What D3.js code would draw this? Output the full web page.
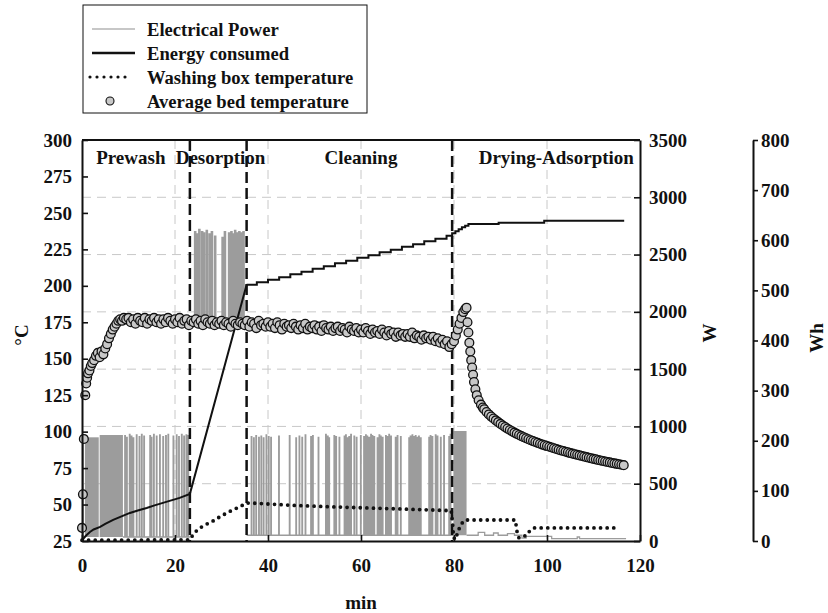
<!DOCTYPE html>
<html>
<head>
<meta charset="utf-8">
<script src="https://cdn.jsdelivr.net/npm/d3@7"></script>
<style>
body { margin: 0; background: #fff; }
text { font-family: "Liberation Serif", "Times New Roman", serif; font-weight: bold; fill: #111; }
</style>
</head>
<body>
<div id="chart-area"></div>
<script>
/*
*    washing cycle chart
*/

// ---- values ----
var xTicks = [0, 20, 40, 60, 80, 100, 120];
var cTicks = [25, 50, 75, 100, 125, 150, 175, 200, 225, 250, 275, 300];
var wTicks = [0, 500, 1000, 1500, 2000, 2500, 3000, 3500];
var whTicks = [0, 100, 200, 300, 400, 500, 600, 700, 800];

var phaseNames = ["Prewash", "Desorption", "Cleaning", "Drying-Adsorption"];
var phaseStart = [0, 23.2, 35.4, 79.6];

// electrical power (W): off level per phase and heater pulses
var phaseBaseW = [35, 1900, 50];
var prewashSpikeMin = [9.2, 9.6, 10.2, 10.6, 11.0, 11.7, 12.3, 12.8, 13.3, 14.6, 14.9, 15.4, 16.0, 16.7, 17.4, 18.0, 18.5, 19.6, 20.3, 20.8, 21.4, 21.9, 22.4, 22.8];
var prewashSpikeW   = [920, 905, 930, 915, 900, 925, 910, 930, 915, 920, 905, 930, 915, 925, 910, 920, 930, 915, 925, 910, 930, 915, 925, 920];
var desorbSpikeMin = [24.2, 24.7, 25.1, 25.7, 26.1, 26.7, 27.3, 27.8, 28.5, 30.1, 30.6, 31.5, 32.0, 32.4, 32.8, 33.3, 33.7, 34.2, 34.6];
var desorbSpikeW   = [2700, 2680, 2720, 2700, 2690, 2710, 2680, 2700, 2660, 2650, 2700, 2690, 2700, 2680, 2710, 2690, 2700, 2690, 2700];
var cleanSpikeMin = [36.4, 36.9, 37.4, 38.0, 38.5, 39.0, 39.6, 40.1, 40.6, 42.3, 44.6, 46.0, 46.7, 47.3, 48.0, 49.2, 49.6, 50.8, 52.4, 52.8, 53.1, 54.2, 54.6, 55.3, 56.4, 56.7, 57.1, 57.4, 57.8, 58.5, 59.0, 59.9, 60.6, 61.0, 61.3, 61.7, 62.1, 62.4, 62.8, 63.5, 63.9, 64.2, 64.6, 65.3, 65.6, 66.0, 66.4, 67.4, 67.8, 68.5, 70.3, 70.6, 71.0, 71.3, 71.7, 72.1, 72.4, 72.8, 74.6, 74.9, 75.3, 76.0, 76.4, 77.1, 77.8, 78.9, 79.2];
var cleanSpikeW   = [910, 900, 920, 905, 915, 900, 925, 910, 905, 915, 920, 900, 915, 905, 925, 910, 920, 905, 930, 915, 900, 920, 910, 905, 915, 925, 900, 910, 930, 915, 905, 920, 910, 925, 915, 905, 930, 920, 910, 900, 925, 915, 905, 920, 910, 930, 915, 905, 920, 910, 900, 915, 925, 910, 920, 905, 915, 900, 905, 920, 910, 925, 915, 905, 920, 910, 930];
// near-continuous switching: [from min, to min, low W, high W]
var powerBlocks = [[0, 0.45, 35, 880], [0.65, 3.6, 35, 905], [3.8, 8.8, 35, 925], [79.9, 82.7, 50, 960]];
var tailMin = [82.7, 85.2, 86.6, 88.5, 89.5, 91.5, 93.0, 94.6, 95.5, 101.0, 106.5, 107.0, 117.0];
var tailW   = [50, 75, 50, 70, 50, 65, 50, 25, 40, 20, 35, 20, 20];

// energy consumed (Wh)
var energyRampMin = [0, 0.5, 1, 1.7, 2.5, 3.9, 5, 6.7, 8.5, 10.3, 12, 13.9, 15.6, 17.4, 19.2, 21, 23.2, 35.4];
var energyRampWh  = [0, 7, 12, 18, 23, 28, 34, 42, 49, 56, 61, 66, 71, 76, 81, 86, 94, 511];
var energyStepMin = [35.4, 37.6, 40, 42.4, 44.8, 47.2, 49.6, 52, 54.4, 56.8, 59.2, 61.6, 64, 66.4, 68.8, 71.2, 73.6, 76, 78.4, 79.6, 80.3, 81, 81.7, 82.4, 83.1, 89.6, 99.4, 116.6];
var energyStepWh  = [511, 516, 521, 526, 532, 537, 543, 548, 554, 559, 565, 570, 576, 581, 587, 592, 598, 603, 609, 614, 618, 622, 626, 629, 632.5, 635, 639, 639];

// washing box temperature (°C)
var washMin = [0, 23.2, 23.8, 24.9, 26.4, 27.8, 29.6, 31, 32.4, 33.9, 35.3, 36.5, 45, 55, 65, 75, 79.4, 79.7, 79.9, 80.2, 80.6, 81, 81.4, 82.3, 93.2, 93.5, 93.7, 94, 95.7, 96, 97.2, 114.8];
var washC   = [25.5, 25.8, 29, 33, 36, 38, 41.5, 44, 46.3, 48.4, 51, 51, 49.5, 48.3, 47.3, 46.3, 45.8, 37, 28, 26, 29, 32.5, 36, 39.4, 39.4, 32.5, 29, 27, 29, 31, 34, 34];

// average bed temperature (°C)
var bedMin = [0, 0.2, 0.4, 0.7, 0.9, 1.1, 1.3, 1.6, 1.9, 2.2, 2.6, 3.0, 3.4, 3.8, 4.2, 4.6, 5.0, 5.4, 5.8, 6.2, 6.6, 7.0, 7.4, 7.8, 8.2, 8.6, 9.0, 9.5,
  10, 10.5, 11, 11.5, 12, 12.5, 13, 13.5, 14, 14.5, 15, 15.5, 16, 16.5, 17, 17.5, 18, 18.5, 19, 19.5,
  20, 20.5, 21, 21.5, 22, 22.5, 23, 23.5, 24, 24.5, 25, 25.5, 26, 26.5, 27, 27.5, 28, 28.5, 29, 29.5,
  30, 30.5, 31, 31.5, 32, 32.5, 33, 33.5, 34, 34.5, 35, 35.5, 36, 36.5, 37, 37.5, 38, 38.5, 39, 39.5,
  40, 40.5, 41, 41.5, 42, 42.5, 43, 43.5, 44, 44.5, 45, 45.5, 46, 46.5, 47, 47.5, 48, 48.5, 49, 49.5,
  50, 50.5, 51, 51.5, 52, 52.5, 53, 53.5, 54, 54.5, 55, 55.5, 56, 56.5, 57, 57.5, 58, 58.5, 59, 59.5,
  60, 60.5, 61, 61.5, 62, 62.5, 63, 63.5, 64, 64.5, 65, 65.5, 66, 66.5, 67, 67.5, 68, 68.5, 69, 69.5,
  70, 70.5, 71, 71.5, 72, 72.5, 73, 73.5, 74, 74.5, 75, 75.5, 76, 76.5, 77, 77.5, 78, 78.5, 79, 79.5,
  80, 80.4, 80.8, 81.2, 81.6, 82, 82.4, 82.7, 82.9, 83.1, 83.3, 83.5, 83.7, 83.9, 84.1, 84.3, 84.6, 84.9, 85.3, 85.8, 86.2,
  86.5, 87, 87.5, 88, 88.5, 89, 89.5, 90, 90.5, 91, 91.5, 92, 92.5, 93, 93.5, 94, 94.5, 95, 95.5, 96,
  96.5, 97, 97.5, 98, 98.5, 99, 99.5, 100, 100.5, 101, 101.5, 102, 102.5, 103, 103.5, 104, 104.5, 105, 105.5, 106,
  106.5, 107, 107.5, 108, 108.5, 109, 109.5, 110, 110.5, 111, 111.5, 112, 112.5, 113, 113.5, 114, 114.5, 115, 115.5, 116, 116.5];
var bedC = [34, 57, 95, 125, 133, 137, 140, 142, 145, 147, 149, 152, 154, 151, 155, 153, 157, 160, 164, 167, 170, 172, 174, 176, 177, 176, 178, 177,
  178, 175, 177, 174, 178, 176, 175, 178, 174, 177, 176, 178, 175, 177, 174, 177, 175, 178, 176, 174,
  177, 175, 178, 174, 176, 177, 173, 176, 175, 177, 174, 176, 173, 177, 175, 174, 176, 173, 175, 174,
  176, 173, 175, 174, 172, 176, 174, 173, 175, 174, 173, 176, 172, 175, 174, 171, 176, 173, 174, 172,
  175, 172, 174, 171, 175, 173, 170, 174, 172, 173, 171, 174, 172, 170, 173, 171, 174, 170, 172, 171,
  173, 170, 172, 169, 173, 171, 170, 172, 169, 171, 172, 169, 171, 170, 168, 172, 170, 169, 171, 168,
  170, 168, 171, 169, 167, 170, 168, 169, 167, 170, 168, 166, 169, 167, 168, 165, 168, 166, 167, 165,
  167, 165, 168, 164, 166, 165, 163, 166, 164, 165, 163, 165, 162, 164, 161, 163, 160, 162, 158, 160,
  162, 166, 170, 174, 178, 182, 184, 185, 175, 168, 161, 155, 149, 144, 139, 134, 129, 125, 121.5, 118.5, 116.5,
  115.4, 113.5, 111.8, 110.3, 109.0, 107.7, 106.5, 105.3, 104.2, 103.1, 102.1, 101.1, 100.2, 99.3, 98.5, 97.7, 96.9, 96.2, 95.5, 94.8,
  94.1, 93.5, 92.9, 92.3, 91.7, 91.1, 90.6, 90.1, 89.6, 89.1, 88.6, 88.1, 87.6, 87.1, 86.7, 86.2, 85.8, 85.3, 84.9, 84.5,
  84.1, 83.7, 83.3, 82.9, 82.5, 82.1, 81.7, 81.3, 81.0, 80.6, 80.2, 79.9, 79.5, 79.2, 78.9, 78.5, 78.2, 77.9, 77.6, 77.3, 77.0];

// ---- layout ----
var margin = {left: 82, top: 140};
var width = 558, height = 401;
var phaseLabelMin = [10.5, 29.8, 60, 102];
var fontSize = "19px";

var svg = d3.select("#chart-area")
  .append("svg")
    .attr("width", 828)
    .attr("height", 613);

var g = svg.append("g")
    .attr("transform", "translate(" + margin.left + ", " + margin.top + ")");

var x = d3.scaleLinear().domain([0, 120]).range([0, width]);
var yC = d3.scaleLinear().domain([25, 300]).range([height, 0]);
var yW = d3.scaleLinear().domain([0, 3500]).range([height, 0]);
var yWh = d3.scaleLinear().domain([0, 800]).range([height, 0]);

// grid
g.selectAll(".hgrid").data(wTicks.slice(1, -1)).enter()
  .append("line")
    .attr("x1", 0).attr("x2", width)
    .attr("y1", (d) => yW(d)).attr("y2", (d) => yW(d))
    .attr("stroke", "#c8c8c8").attr("stroke-dasharray", "9,6");
g.selectAll(".vgrid").data(xTicks.slice(1, -1)).enter()
  .append("line")
    .attr("y1", 0).attr("y2", height)
    .attr("x1", (d) => x(d)).attr("x2", (d) => x(d))
    .attr("stroke", "#c8c8c8").attr("stroke-dasharray", "9,6");

// electrical power
var pwColor = "#9c9c9c";
function pulses(t0, t1, base, mins, peaks, w) {
    var pts = [[t0, base]];
    mins.forEach((t, i) => {
        pts.push([t, base], [t, peaks[i]], [t + w, peaks[i]], [t + w, base]);
    });
    pts.push([t1, base]);
    return pts;
}
var pwLine = d3.line().x((d) => x(d[0])).y((d) => yW(d[1]));
var pwSeries = [
    pulses(8.8, phaseStart[1], phaseBaseW[0], prewashSpikeMin, prewashSpikeW, 0.12),
    pulses(phaseStart[1], phaseStart[2], phaseBaseW[1], desorbSpikeMin, desorbSpikeW, 0.28),
    pulses(phaseStart[2], 79.9, phaseBaseW[2], cleanSpikeMin, cleanSpikeW, 0.12)
];
g.selectAll(".pw").data(pwSeries).enter()
  .append("path")
    .attr("d", pwLine)
    .attr("fill", "none")
    .attr("stroke", pwColor)
    .attr("stroke-width", 1.3);
g.selectAll(".pwblock").data(powerBlocks).enter()
  .append("rect")
    .attr("x", (d) => x(d[0]))
    .attr("width", (d) => x(d[1]) - x(d[0]))
    .attr("y", (d) => yW(d[3]))
    .attr("height", (d) => yW(d[2]) - yW(d[3]))
    .attr("fill", pwColor);
g.append("path")
    .datum(tailMin.map((t, i) => [t, tailW[i]]))
    .attr("d", d3.line().curve(d3.curveStepAfter).x((d) => x(d[0])).y((d) => yW(d[1])))
    .attr("fill", "none")
    .attr("stroke", pwColor)
    .attr("stroke-width", 1.3);

// phase separators
g.selectAll(".phase").data(phaseStart.slice(1)).enter()
  .append("line")
    .attr("x1", (d) => x(d)).attr("x2", (d) => x(d))
    .attr("y1", 0).attr("y2", height)
    .attr("stroke", "#111").attr("stroke-width", 2.5)
    .attr("stroke-dasharray", "11,5");

// energy consumed
g.append("path")
    .datum(energyRampMin.map((t, i) => [t, energyRampWh[i]]))
    .attr("d", d3.line().x((d) => x(d[0])).y((d) => yWh(d[1])))
    .attr("fill", "none").attr("stroke", "#111").attr("stroke-width", 2);
g.append("path")
    .datum(energyStepMin.map((t, i) => [t, energyStepWh[i]]))
    .attr("d", d3.line().curve(d3.curveStepAfter).x((d) => x(d[0])).y((d) => yWh(d[1])))
    .attr("fill", "none").attr("stroke", "#111").attr("stroke-width", 2);

// washing box temperature
g.append("path")
    .datum(washMin.map((t, i) => [t, washC[i]]))
    .attr("d", d3.line().x((d) => x(d[0])).y((d) => yC(d[1])))
    .attr("fill", "none").attr("stroke", "#111")
    .attr("stroke-width", 3.8).attr("stroke-linecap", "round")
    .attr("stroke-dasharray", "0,6.6");

// average bed temperature
g.selectAll(".bed").data(bedMin).enter()
  .append("circle")
    .attr("cx", (d) => x(d))
    .attr("cy", (d, i) => yC(bedC[i]))
    .attr("r", 4.4)
    .attr("fill", "#c8c8c8")
    .attr("stroke", "#111")
    .attr("stroke-width", 1.3);

// phase labels
g.selectAll(".plabel").data(phaseNames).enter()
  .append("text")
    .attr("x", (d, i) => x(phaseLabelMin[i]))
    .attr("y", 17)
    .attr("dy", "0.35em")
    .attr("text-anchor", "middle")
    .attr("font-size", fontSize)
    .text((d) => d);

// axes
function styleAxis(sel) {
    sel.selectAll(".domain").attr("stroke", "#111").attr("stroke-width", 2);
    sel.selectAll(".tick line").attr("stroke", "#111").attr("stroke-width", 1.6);
    sel.selectAll(".tick text").attr("font-size", fontSize).attr("fill", "#111")
        .attr("font-family", "Liberation Serif, serif").attr("font-weight", "bold");
}
var fmt = d3.format("d");
g.append("line")
    .attr("x1", 0).attr("x2", width).attr("y1", 0).attr("y2", 0)
    .attr("stroke", "#111").attr("stroke-width", 2);
g.append("g")
    .call(d3.axisLeft(yC).tickValues(cTicks).tickFormat(fmt).tickSizeInner(-6).tickSizeOuter(0).tickPadding(10))
    .call(styleAxis);
g.append("g")
    .attr("transform", "translate(0, " + height + ")")
    .call(d3.axisBottom(x).tickValues(xTicks).tickFormat(fmt).tickSizeInner(-6).tickSizeOuter(0).tickPadding(18))
    .call(styleAxis);
g.append("g")
    .attr("transform", "translate(" + width + ", 0)")
    .call(d3.axisRight(yW).tickValues(wTicks).tickFormat(fmt).tickSizeInner(-6).tickSizeOuter(0).tickPadding(9))
    .call(styleAxis);
g.append("g")
    .attr("transform", "translate(671, 0)")
    .call(d3.axisRight(yWh).tickValues(whTicks).tickFormat(fmt).tickSize(5).tickSizeOuter(0).tickPadding(3))
    .call(styleAxis);

// axis titles
svg.append("text").attr("transform", "translate(21, 335) rotate(-90)")
    .attr("text-anchor", "middle").attr("dy", "0.35em").attr("font-size", fontSize).text("°C");
svg.append("text").attr("transform", "translate(709, 333) rotate(-90)")
    .attr("text-anchor", "middle").attr("dy", "0.35em").attr("font-size", fontSize).text("W");
svg.append("text").attr("transform", "translate(816, 338) rotate(-90)")
    .attr("text-anchor", "middle").attr("dy", "0.35em").attr("font-size", fontSize).text("Wh");
svg.append("text").attr("x", 361).attr("y", 602)
    .attr("text-anchor", "middle").attr("dy", "0.35em").attr("font-size", fontSize).text("min");

// legend
var legendNames = ["Electrical Power", "Energy consumed", "Washing box temperature", "Average bed temperature"];
var lg = svg.append("g");
lg.append("rect")
    .attr("x", 83).attr("y", 5).attr("width", 284).attr("height", 108)
    .attr("fill", "#fff").attr("stroke", "#111").attr("stroke-width", 1);
var rowY = [29, 53, 77, 101];
lg.selectAll(".ltext").data(legendNames).enter()
  .append("text")
    .attr("x", 147).attr("y", (d, i) => rowY[i])
    .attr("dy", "0.35em").attr("font-size", "18.6px")
    .text((d) => d);
lg.append("line").attr("x1", 92).attr("x2", 135).attr("y1", rowY[0]).attr("y2", rowY[0])
    .attr("stroke", "#b4b4b4").attr("stroke-width", 1.5);
lg.append("line").attr("x1", 92).attr("x2", 135).attr("y1", rowY[1]).attr("y2", rowY[1])
    .attr("stroke", "#111").attr("stroke-width", 2.5);
lg.append("line").attr("x1", 90).attr("x2", 132).attr("y1", rowY[2]).attr("y2", rowY[2])
    .attr("stroke", "#111").attr("stroke-width", 3.2).attr("stroke-linecap", "round")
    .attr("stroke-dasharray", "0,7");
lg.append("circle").attr("cx", 110).attr("cy", rowY[3]).attr("r", 4)
    .attr("fill", "#c8c8c8").attr("stroke", "#111").attr("stroke-width", 1.1);
</script>
</body>
</html>
